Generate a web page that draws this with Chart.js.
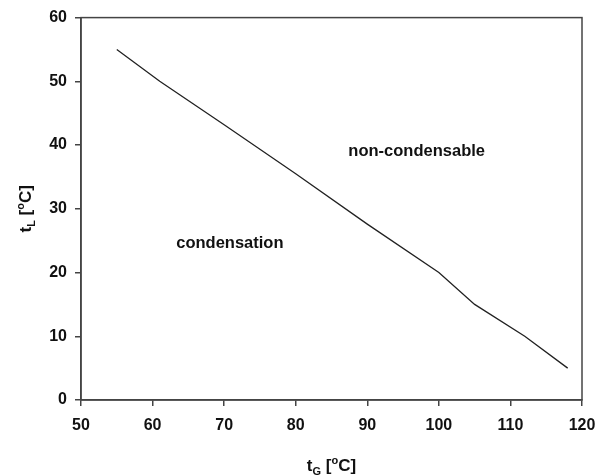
<!DOCTYPE html>
<html>
<head>
<meta charset="utf-8">
<script src="https://cdn.jsdelivr.net/npm/chart.js@4.4.1/dist/chart.umd.min.js"></script>
<style>
  html, body { margin: 0; padding: 0; background: #fff; }
  #wrap { width: 606px; height: 475px; position: relative; }
</style>
</head>
<body>
<div id="wrap"><canvas id="chart"></canvas></div>
<script>
// boundary line t_L vs t_G
const tG = [55, 61, 70, 80, 90, 100, 105, 112, 118];
const tL = [55, 50, 43.2, 35.5, 27.6, 20, 15, 10, 5];

const xTicks = [50, 60, 70, 80, 90, 100, 110, 120];
const yTicks = [0, 10, 20, 30, 40, 50, 60];

const regionNames = ['non-condensable', 'condensation'];
const regionX = [96.9, 70.8];
const regionY = [39, 24.6];

const FONT = '"Liberation Sans", Arial, sans-serif';

// writes "t" + subscript + " [" + superscript o + "C]" centred on x
function drawLabel(ctx, x, y, sub) {
  ctx.textBaseline = 'alphabetic';
  ctx.textAlign = 'left';
  const parts = [
    ['t', 17, 0],
    [sub, 11, 4],
    [' [', 17, 0],
    ['o', 11, -7],
    ['C]', 17, 0],
  ];
  let w = 0;
  parts.forEach(p => { ctx.font = 'bold ' + p[1] + 'px ' + FONT; w += ctx.measureText(p[0]).width; });
  let cx = x - w / 2;
  parts.forEach(p => {
    ctx.font = 'bold ' + p[1] + 'px ' + FONT;
    ctx.fillText(p[0], cx, y + p[2]);
    cx += ctx.measureText(p[0]).width;
  });
}

const decor = {
  id: 'decor',
  afterDraw(chart) {
    const ctx = chart.ctx;
    const a = chart.chartArea;
    const xs = chart.scales.x, ys = chart.scales.y;
    ctx.save();
    // frame
    ctx.strokeStyle = '#444';
    ctx.lineWidth = 1.5;
    ctx.strokeRect(a.left, a.top, a.right - a.left, a.bottom - a.top);

    // region labels
    ctx.fillStyle = '#111';
    ctx.font = 'bold 16.5px ' + FONT;
    ctx.textAlign = 'center';
    ctx.textBaseline = 'middle';
    regionNames.forEach((t, i) => {
      ctx.fillText(t, xs.getPixelForValue(regionX[i]), ys.getPixelForValue(regionY[i]));
    });

    // axis titles
    drawLabel(ctx, (a.left + a.right) / 2, 471, 'G');
    ctx.translate(31, (a.top + a.bottom) / 2);
    ctx.rotate(-Math.PI / 2);
    drawLabel(ctx, 0, 0, 'L');
    ctx.restore();
  }
};

new Chart(document.getElementById('chart'), {
  type: 'line',
  data: {
    datasets: [{
      data: tG.map((x, i) => ({ x: x, y: tL[i] })),
      borderColor: '#222',
      borderWidth: 1.3,
      pointRadius: 0,
      tension: 0,
      fill: false,
    }],
  },
  options: {
    responsive: true,
    maintainAspectRatio: false,
    animation: false,
    layout: { padding: { top: 16, right: 24, left: 0, bottom: 0 } },
    plugins: { legend: { display: false }, tooltip: { enabled: false } },
    scales: {
      x: {
        type: 'linear',
        min: 50,
        max: 120,
        afterBuildTicks: (s) => { s.ticks = xTicks.map(v => ({ value: v })); },
        afterFit: (s) => { s.height = 75; },
        grid: { drawOnChartArea: false, tickLength: 6, color: '#444', lineWidth: 1.5 },
        border: { color: '#444', width: 1.5 },
        ticks: { color: '#111', font: { family: FONT, size: 16, weight: 'bold' }, padding: 10, maxRotation: 0 },
      },
      y: {
        min: 0,
        max: 60,
        afterBuildTicks: (s) => { s.ticks = yTicks.map(v => ({ value: v })); },
        afterFit: (s) => { s.width = 81; },
        grid: { drawOnChartArea: false, tickLength: 6, color: '#444', lineWidth: 1.5 },
        border: { color: '#444', width: 1.5 },
        ticks: { color: '#111', font: { family: FONT, size: 16, weight: 'bold' }, padding: 8 },
      },
    },
  },
  plugins: [decor],
});
</script>
</body>
</html>
